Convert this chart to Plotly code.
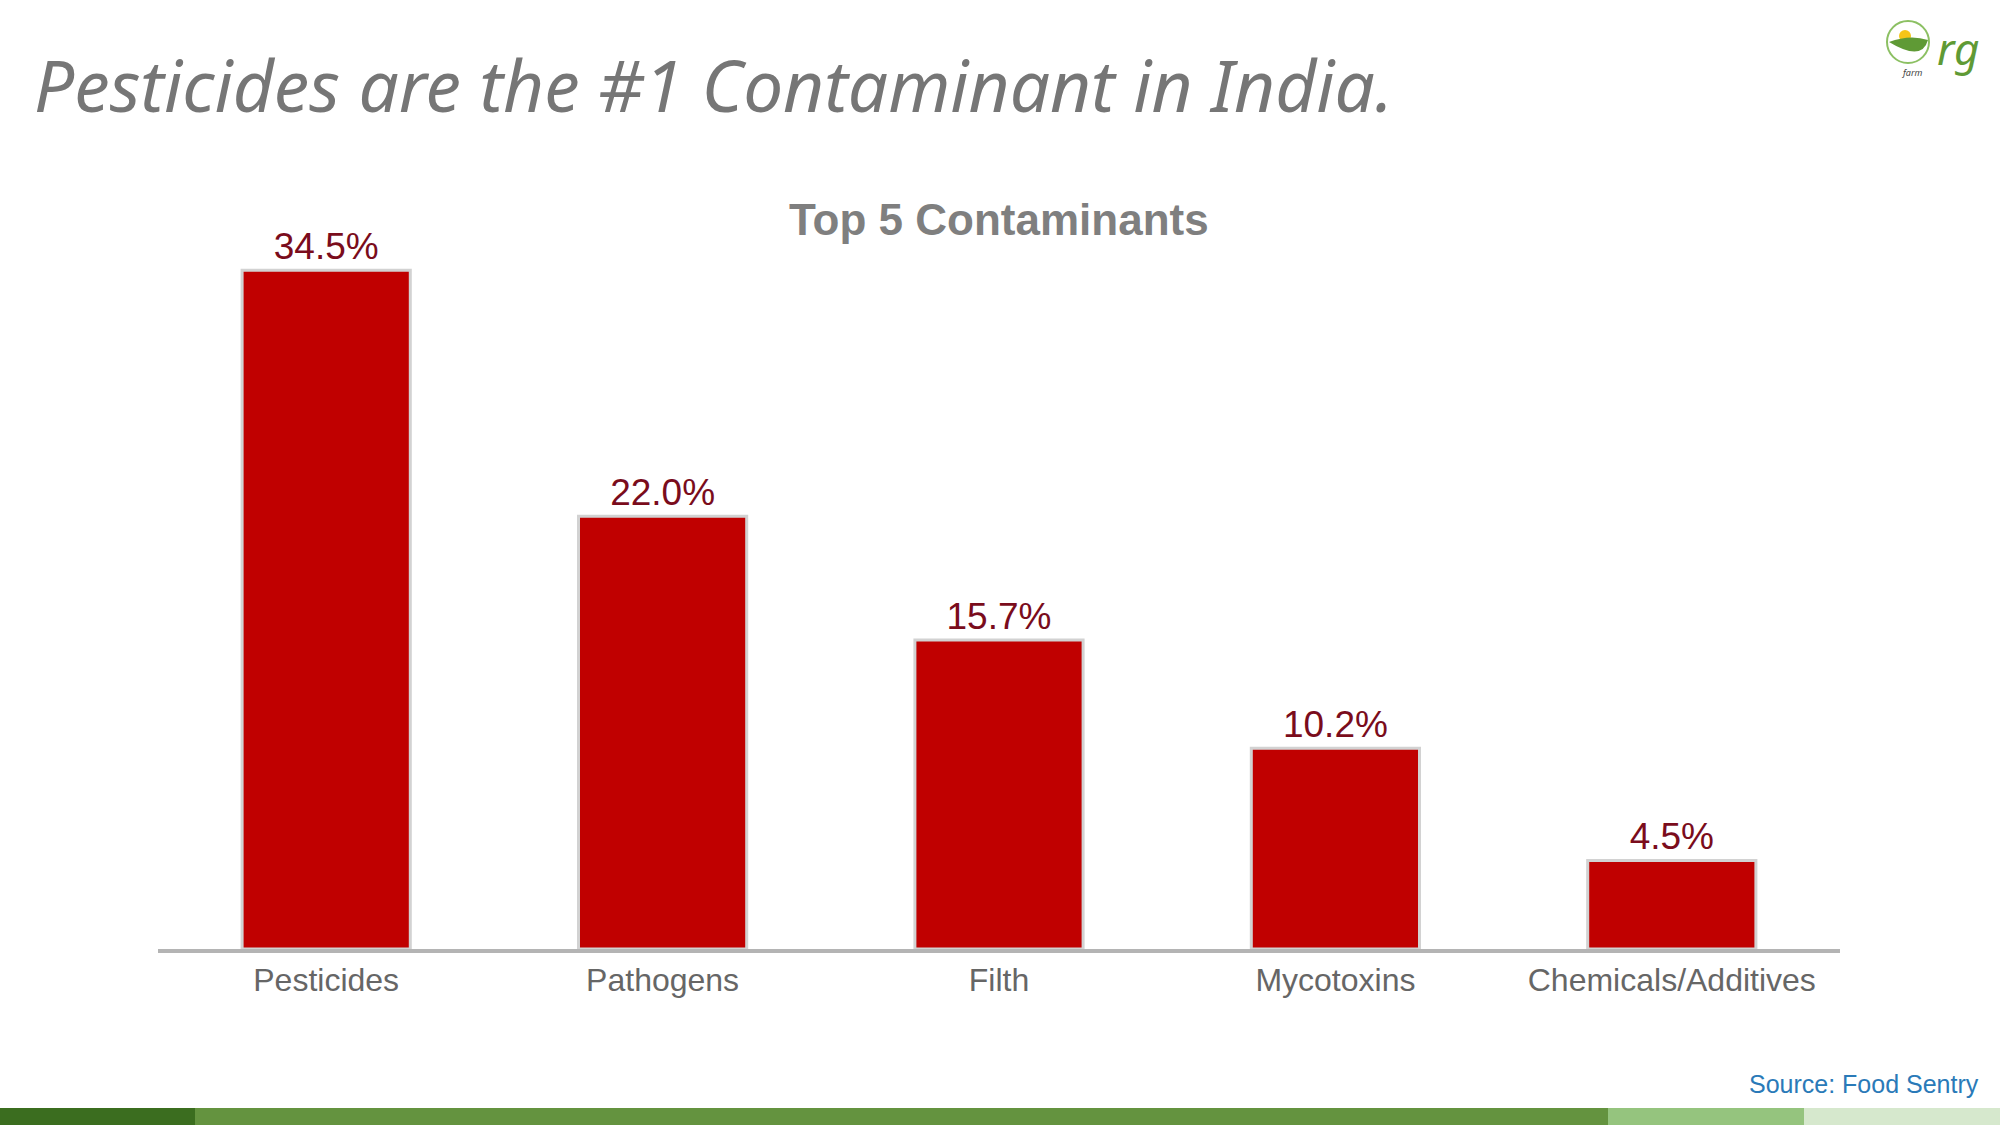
import plotly.graph_objects as go

# data
categories = ["Pesticides", "Pathogens", "Filth", "Mycotoxins", "Chemicals/Additives"]
shares = [34.5, 22.0, 15.7, 10.2, 4.5]

page_title = "Pesticides are the #1 Contaminant in India."
chart_title = "Top 5 Contaminants"
source_note = "Source: Food Sentry"

W, H = 2000, 1125
L, R, T, B = 158, 160, 162, 176

# pixel -> paper helpers for the decorations
def px(x):
    return (x - L) / (W - L - R)

def py(y):
    return (H - B - y) / (H - T - B)

fig = go.Figure()

fig.add_trace(go.Bar(
    x=categories,
    y=shares,
    width=0.5,
    marker=dict(color="#C00000", line=dict(color="#d2d2d2", width=3)),
    texttemplate="%{y:.1f}%",
    textposition="outside",
    textfont=dict(family="Liberation Sans, Arial", size=37, color="#7a0c1c"),
    cliponaxis=False,
    hoverinfo="skip",
))

shapes = []
# green stripes along the bottom edge
stripes = [(0, 195, "#3b6d1f"), (195, 1608, "#64933f"),
           (1608, 1804, "#95c47e"), (1804, 2000, "#d6e8cd")]
for x0, x1, col in stripes:
    shapes.append(dict(type="rect", xref="paper", yref="paper",
                       x0=px(x0), x1=px(x1), y0=py(1125), y1=py(1108),
                       fillcolor=col, line=dict(width=0), layer="above"))

# little logo in the top right corner
shapes.append(dict(type="circle", xref="paper", yref="paper",
                   x0=px(1887), x1=px(1929), y0=py(63), y1=py(21),
                   line=dict(color="#8cc063", width=2)))
shapes.append(dict(type="circle", xref="paper", yref="paper",
                   x0=px(1899), x1=px(1911), y0=py(42), y1=py(30),
                   fillcolor="#f5c518", line=dict(width=0)))
shapes.append(dict(type="path", xref="paper", yref="paper",
                   path="M %f,%f Q %f,%f %f,%f Q %f,%f %f,%f Z" % (
                       px(1889), py(42), px(1910), py(34), px(1928), py(40),
                       px(1922), py(62), px(1889), py(42)),
                   fillcolor="#5f9a35", line=dict(width=0)))

annotations = [
    dict(text=page_title, x=px(32), y=py(84), xref="paper", yref="paper",
         xanchor="left", yanchor="middle", showarrow=False,
         font=dict(family="Noto Sans", size=71, color="#767676", style="italic")),
    dict(text="<b>" + chart_title + "</b>", x=px(999), y=py(219), xref="paper", yref="paper",
         xanchor="center", yanchor="middle", showarrow=False,
         font=dict(family="Liberation Sans, Arial", size=44, color="#7f7f7f")),
    dict(text=source_note, x=px(1981), y=py(1084), xref="paper", yref="paper",
         xanchor="right", yanchor="middle", showarrow=False,
         font=dict(family="Liberation Sans, Arial", size=25, color="#2a7ab8")),
    dict(text="rg", x=px(1958), y=py(48), xref="paper", yref="paper",
         xanchor="center", yanchor="middle", showarrow=False,
         font=dict(family="Noto Sans", size=44, color="#5f9a35", style="italic")),
    dict(text="farm", x=px(1912), y=py(72), xref="paper", yref="paper",
         xanchor="center", yanchor="middle", showarrow=False,
         font=dict(family="Noto Sans", size=9, color="#444444", style="italic")),
]

fig.update_layout(
    width=W, height=H,
    margin=dict(l=L, r=R, t=T, b=B),
    paper_bgcolor="white", plot_bgcolor="white",
    showlegend=False,
    shapes=shapes,
    annotations=annotations,
)
fig.update_xaxes(
    range=[-0.5, 4.5],
    showline=True, linecolor="#b4b4b4", linewidth=4,
    showgrid=False, ticks="",
    tickfont=dict(family="Liberation Sans, Arial", size=32, color="#666666"),
)
fig.update_yaxes(range=[0, 40], visible=False, showgrid=False, zeroline=False)

# drop the default page margin so the figure fills the window exactly
fig.write_html("out.html", config={"displayModeBar": False},
               post_script="document.body.style.margin='0';")
